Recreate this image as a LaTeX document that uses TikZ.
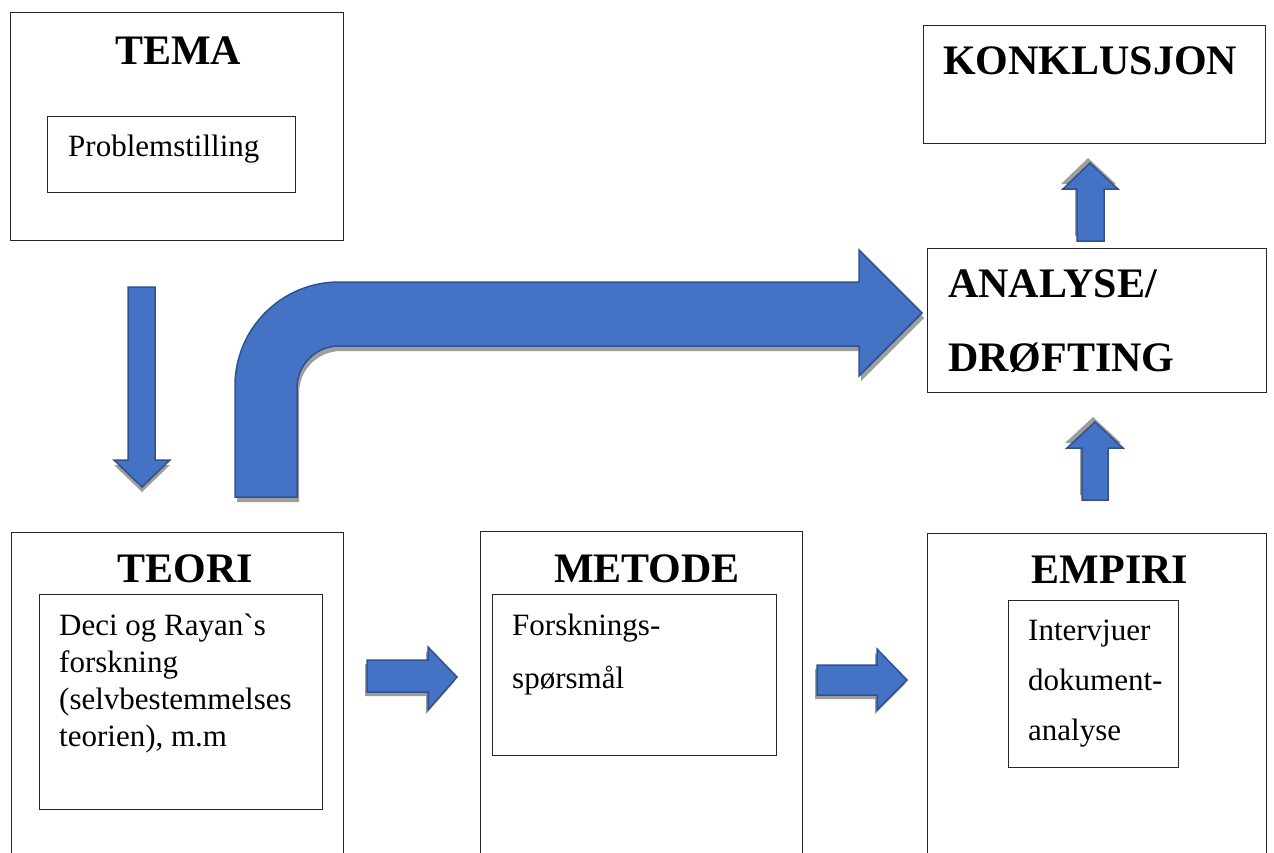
\documentclass[tikz,border=0pt]{standalone}
\usepackage{fontspec}
\setmainfont{Liberation Serif}
\usetikzlibrary{shadows}
\definecolor{arrowblue}{HTML}{4472C4}
\definecolor{arrowedge}{HTML}{2F528F}

\begin{document}
\begin{tikzpicture}[
			x=1pt, y=-1pt,
			box/.style={draw=black!85, line width=1pt, inner sep=0pt, anchor=north west},
			title/.style={font=\fontsize{42}{50}\selectfont\bfseries, inner sep=0pt},
			body/.style={font=\fontsize{31}{37}\selectfont, inner sep=0pt, align=left, anchor=base west},
			blockarrow/.style={draw=arrowedge, fill=arrowblue, line width=1.5pt},
			shade/.style 2 args={drop shadow={shadow xshift=#1, shadow yshift=#2, fill=black!38, opacity=1}}
			]
			\clip (0,0) rectangle (1274,852);
			\fill[white] (0,0) rectangle (1274,852);
			% outer boxes
			\node[box, minimum width=333pt, minimum height=228pt] (tema) at (10,12) {};
			\node[box, minimum width=342pt, minimum height=118pt] (konklusjon) at (923,25) {};
			\node[box, minimum width=339pt, minimum height=144pt] (analyse) at (927,248) {};
			\node[box, minimum width=332pt, minimum height=340pt] (teori) at (11,532) {};
			\node[box, minimum width=322pt, minimum height=340pt] (metode) at (480,531) {};
			\node[box, minimum width=339pt, minimum height=340pt] (empiri) at (927,533) {};
			% inner boxes
			\node[box, minimum width=248pt, minimum height=76pt] (problem) at (47,116) {};
			\node[box, minimum width=283pt, minimum height=215pt] (teoriinner) at (39,594) {};
			\node[box, minimum width=284pt, minimum height=161pt] (metodeinner) at (492,594) {};
			\node[box, minimum width=170pt, minimum height=167pt] (empiriinner) at (1008,600) {};
			% titles (multi-line nodes sit on their last baseline)
			\node[title, anchor=base] (tematitle) at (178,64) {TEMA};
			\node[title, anchor=base west] (konklusjontitle) at (943,74) {KONKLUSJON};
			\node[title, anchor=base west, align=left, font=\fontsize{42}{74}\selectfont\bfseries] (analysetitle) at (948,371) {ANALYSE/\\DRØFTING};
			\node[title, anchor=base] (teorititle) at (185,582) {TEORI};
			\node[title, anchor=base] (metodetitle) at (647,582) {METODE};
			\node[title, anchor=base] (empirititle) at (1110,583) {EMPIRI};
			% texts
			\node[body] (problemtext) at (68,156) {Problemstilling};
			\node[body] (teoritext) at (59,746) {Deci og Rayan\textasciigrave s\\forskning\\(selvbestemmelses\\teorien), m.m};
			\node[body, font=\fontsize{31}{53}\selectfont] (metodetext) at (512,688) {Forsknings-\\spørsmål};
			\node[body, font=\fontsize{31}{50}\selectfont] (empiritext) at (1028,740) {Intervjuer\\dokument-\\analyse};
			% block arrows
			\path[blockarrow, shade={0pt}{-5pt}] (128,287) -- (155,287) -- (155,460) -- (170,460) -- (142,487) -- (114,460) -- (128,460) -- cycle;
			\path[blockarrow, shade={2pt}{-5pt}] (235,497) -- (235,386) arc[start angle=180, end angle=270, radius=104]
				-- (859,282) -- (859,250) -- (922,313) -- (859,376) -- (859,346) -- (339,346)
				arc[start angle=270, end angle=180, radius=42] -- (297,497) -- cycle;
			\path[blockarrow, shade={-2pt}{5pt}] (1077,241) -- (1077,189) -- (1063,189) -- (1090,163) -- (1118,189) -- (1104,189) -- (1104,241) -- cycle;
			\path[blockarrow, shade={-2pt}{5pt}] (1082,500) -- (1082,448) -- (1067,448) -- (1095,422) -- (1123,448) -- (1108,448) -- (1108,500) -- cycle;
			\path[blockarrow, shade={-2pt}{-4pt}] (367,660) -- (428,660) -- (428,647) -- (457,677) -- (428,710) -- (428,692) -- (367,692) -- cycle;
			\path[blockarrow, shade={-2pt}{-4pt}] (817,665) -- (877,665) -- (877,649) -- (907,680) -- (877,710) -- (877,695) -- (817,695) -- cycle;
		\end{tikzpicture}
\end{document}
